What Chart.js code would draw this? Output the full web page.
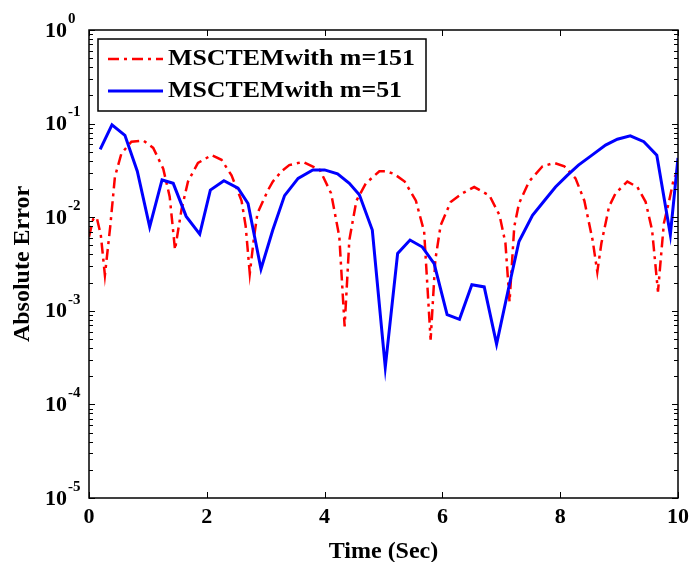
<!DOCTYPE html>
<html>
<head>
<meta charset="utf-8">
<title>Absolute Error</title>
<script src="https://cdn.jsdelivr.net/npm/chart.js"></script>
<style>
  html, body { margin: 0; padding: 0; background: #fff; }
</style>
</head>
<body>
<canvas id="errChart" width="695" height="562"></canvas>
<script>
// m = 151, red dash-dot
var t151 = [0.00, 0.07, 0.13, 0.20, 0.27, 0.36, 0.44, 0.55, 0.72, 0.92, 1.09, 1.26, 1.37, 1.46, 1.57, 1.68, 1.85, 2.08, 2.25, 2.42,
            2.59, 2.66, 2.73, 2.80, 2.86, 3.04, 3.12, 3.27, 3.40, 3.63, 3.92, 4.11, 4.25, 4.34, 4.42, 4.54, 4.70, 4.93, 5.04, 5.18,
            5.36, 5.55, 5.69, 5.80, 5.88, 5.97, 6.14, 6.34, 6.54, 6.80, 6.97, 7.07, 7.14, 7.22, 7.30, 7.47, 7.70, 7.90, 8.07, 8.26,
            8.41, 8.55, 8.63, 8.70, 8.83, 8.94, 9.14, 9.31, 9.45, 9.56, 9.66, 9.76, 9.85, 9.93, 10.0];
var err151 = [0.0062, 0.0095, 0.0100, 0.0065, 0.0024, 0.0079, 0.027, 0.048, 0.064, 0.066, 0.055, 0.033, 0.0166, 0.0045, 0.012, 0.024, 0.038, 0.046, 0.041, 0.028,
              0.015, 0.008, 0.0025, 0.006, 0.011, 0.0195, 0.024, 0.031, 0.036, 0.039, 0.032, 0.018, 0.0062, 0.00068, 0.0057, 0.015, 0.023, 0.031, 0.031, 0.029,
              0.024, 0.015, 0.0070, 0.00049, 0.0035, 0.0082, 0.0145, 0.018, 0.021, 0.017, 0.0105, 0.0053, 0.00125, 0.0079, 0.014, 0.024, 0.035, 0.038, 0.035, 0.026,
              0.015, 0.0057, 0.0026, 0.0053, 0.013, 0.018, 0.024, 0.021, 0.0146, 0.0073, 0.0016, 0.0086, 0.015, 0.026, 0.031];

// m = 51, blue solid
var t51 = [0.19, 0.39, 0.61, 0.82, 1.03, 1.24, 1.43, 1.65, 1.88, 2.06, 2.29, 2.53, 2.70, 2.92, 3.12, 3.32, 3.55, 3.80, 4.00, 4.22,
           4.42, 4.59, 4.81, 5.03, 5.24, 5.45, 5.66, 5.86, 6.08, 6.29, 6.50, 6.71, 6.92, 7.12, 7.30, 7.53, 7.73, 7.92, 8.12, 8.31,
           8.54, 8.77, 8.97, 9.19, 9.42, 9.64, 9.87, 10.0];
var err51 = [0.053, 0.097, 0.075, 0.031, 0.0079, 0.025, 0.023, 0.0102, 0.0066, 0.0195, 0.0245, 0.0204, 0.014, 0.0028, 0.0073, 0.017, 0.026, 0.032, 0.032, 0.029,
             0.023, 0.0174, 0.0073, 0.00025, 0.0041, 0.0057, 0.0048, 0.0032, 0.00091, 0.00081, 0.0019, 0.0018, 0.00044, 0.0017, 0.0055, 0.0105, 0.015, 0.021, 0.028, 0.036,
             0.046, 0.059, 0.068, 0.074, 0.064, 0.046, 0.0065, 0.043];

var seriesLabels = ['MSCTEMwith m=151', 'MSCTEMwith m=51'];
var xTicks = [0, 2, 4, 6, 8, 10];
var yExps = [0, -1, -2, -3, -4, -5];

var serif = '"Liberation Serif", "Times New Roman", serif';

function toPoints(ts, vs) {
    var pts = [];
    for (var i = 0; i < ts.length; i++) pts.push({ x: ts[i], y: vs[i] });
    return pts;
}

// matlab style box, inward ticks, 10^n labels and legend
var matlabAxes = {
    id: 'matlabAxes',
    afterDraw: function (chart) {
        var ctx = chart.ctx, a = chart.chartArea;
        var xs = chart.scales.x, ys = chart.scales.y;
        ctx.save();
        ctx.strokeStyle = '#000';
        ctx.lineWidth = 1.5;
        ctx.strokeRect(a.left, a.top, a.right - a.left, a.bottom - a.top);

        ctx.lineWidth = 1;
        ctx.beginPath();
        xTicks.forEach(function (v) {
            var px = Math.round(xs.getPixelForValue(v)) + 0.5;
            ctx.moveTo(px, a.bottom); ctx.lineTo(px, a.bottom - 6);
            ctx.moveTo(px, a.top); ctx.lineTo(px, a.top + 6);
        });
        yExps.forEach(function (e) {
            var py = Math.round(ys.getPixelForValue(Math.pow(10, e))) + 0.5;
            ctx.moveTo(a.left, py); ctx.lineTo(a.left + 6, py);
            ctx.moveTo(a.right, py); ctx.lineTo(a.right - 6, py);
            if (e < 0) {
                for (var k = 2; k <= 9; k++) {
                    var pm = Math.round(ys.getPixelForValue(k * Math.pow(10, e))) + 0.5;
                    ctx.moveTo(a.left, pm); ctx.lineTo(a.left + 4, pm);
                    ctx.moveTo(a.right, pm); ctx.lineTo(a.right - 4, pm);
                }
            }
        });
        ctx.stroke();

        // y tick labels
        ctx.fillStyle = '#000';
        yExps.forEach(function (e) {
            var py = ys.getPixelForValue(Math.pow(10, e));
            ctx.font = 'bold 22px ' + serif;
            ctx.textAlign = 'right';
            ctx.textBaseline = 'middle';
            ctx.fillText('10', a.left - 22, py + 1);
            ctx.font = 'bold 15px ' + serif;
            ctx.textAlign = 'left';
            ctx.fillText(String(e), a.left - 21, py - 11);
        });

        // legend
        var lx = a.left + 9, ly = a.top + 9, lw = 328, lh = 72;
        ctx.fillStyle = '#fff';
        ctx.fillRect(lx, ly, lw, lh);
        ctx.strokeStyle = '#000';
        ctx.lineWidth = 1.5;
        ctx.strokeRect(lx, ly, lw, lh);
        chart.data.datasets.forEach(function (ds, i) {
            var ry = ly + 20 + i * 32;
            ctx.save();
            ctx.strokeStyle = ds.borderColor;
            ctx.lineWidth = ds.borderWidth;
            ctx.setLineDash(ds.borderDash || []);
            ctx.beginPath();
            ctx.moveTo(lx + 10, ry);
            ctx.lineTo(lx + 65, ry);
            ctx.stroke();
            ctx.restore();
            ctx.save();
            ctx.fillStyle = '#000';
            ctx.font = 'bold 23px ' + serif;
            ctx.textAlign = 'left';
            ctx.textBaseline = 'middle';
            // stretch text a bit to the width seen in the picture
            var sx = 247 / ctx.measureText(seriesLabels[0]).width;
            ctx.translate(lx + 70, ry);
            ctx.scale(sx, 1);
            ctx.fillText(ds.label, 0, 0);
            ctx.restore();
        });
        ctx.restore();
    }
};

var ctx = document.getElementById('errChart').getContext('2d');
var errChart = new Chart(ctx, {
    type: 'line',
    data: {
        datasets: [{
            label: seriesLabels[0],
            data: toPoints(t151, err151),
            borderColor: '#ff0000',
            borderWidth: 2.5,
            borderDash: [11, 5, 3, 5],
            pointRadius: 0,
            fill: false,
            order: 1
        }, {
            label: seriesLabels[1],
            data: toPoints(t51, err51),
            borderColor: '#0000ff',
            borderWidth: 3,
            pointRadius: 0,
            fill: false,
            order: 0
        }]
    },
    options: {
        responsive: false,
        animation: false,
        events: [],
        layout: { padding: { top: 30, right: 16, left: 0, bottom: 0 } },
        plugins: {
            legend: { display: false },
            tooltip: { enabled: false }
        },
        scales: {
            x: {
                type: 'linear',
                min: 0,
                max: 10,
                grid: { display: false, drawTicks: false },
                border: { display: false },
                ticks: {
                    stepSize: 2,
                    maxRotation: 0,
                    padding: 6,
                    color: '#000',
                    font: { family: serif, size: 22, weight: 'bold' }
                },
                title: {
                    display: true,
                    text: 'Time (Sec)',
                    color: '#000',
                    padding: { top: 0, bottom: -2 },
                    font: { family: serif, size: 24, weight: 'bold', lineHeight: 1 }
                },
                afterFit: function (scale) { scale.height = 64; }
            },
            y: {
                type: 'logarithmic',
                min: 1e-5,
                max: 1,
                grid: { display: false, drawTicks: false },
                border: { display: false },
                ticks: { display: false },
                title: {
                    display: true,
                    text: 'Absolute Error',
                    color: '#000',
                    padding: { top: 11, bottom: 0 },
                    font: { family: serif, size: 24, weight: 'bold', lineHeight: 1 }
                },
                afterFit: function (scale) { scale.width = 89; }
            }
        }
    },
    plugins: [matlabAxes]
});
</script>
</body>
</html>
